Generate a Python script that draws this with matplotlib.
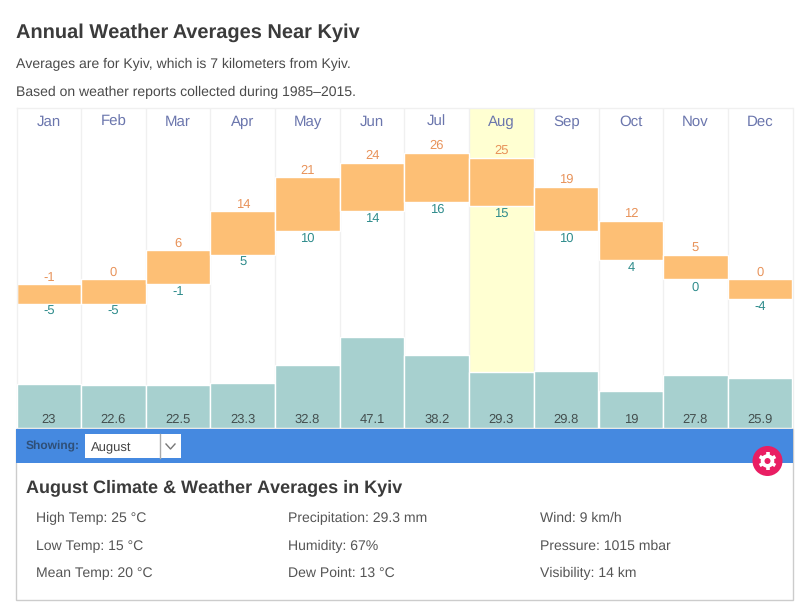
import numpy as np
import matplotlib
matplotlib.use('Agg')
import matplotlib.pyplot as plt
from matplotlib.patches import Rectangle, Circle

plt.rcParams['font.family'] = ['Liberation Sans', 'DejaVu Sans']
plt.rcParams['text.hinting'] = 'none'
plt.rcParams['text.hinting_factor'] = 1

# data
months = ['Jan','Feb','Mar','Apr','May','Jun','Jul','Aug','Sep','Oct','Nov','Dec']
high_temp = [-1,0,6,14,21,24,26,25,19,12,5,0]
low_temp = [-5,-5,-1,5,10,14,16,15,10,4,0,-4]
precip = [23,22.6,22.5,23.3,32.8,47.1,38.2,29.3,29.8,19,27.8,25.9]
precip_labels = ['23','22.6','22.5','23.3','32.8','47.1','38.2','29.3','29.8','19','27.8','25.9']
selected = 'Aug'

title = 'Annual Weather Averages Near Kyiv'
subtitle1 = 'Averages are for Kyiv, which is 7 kilometers from Kyiv.'
subtitle2 = 'Based on weather reports collected during 1985–2015.'
panel_title = 'August Climate & Weather Averages in Kyiv'
col1 = ['High Temp: 25 °C','Low Temp: 15 °C','Mean Temp: 20 °C']
col2 = ['Precipitation: 29.3 mm','Humidity: 67%','Dew Point: 13 °C']
col3 = ['Wind: 9 km/h','Pressure: 1015 mbar','Visibility: 14 km']

W, H = 800, 608
fig = plt.figure(figsize=(W/100, H/100), dpi=100, facecolor='white')

# page layer, in pixels
page = fig.add_axes([0,0,1,1], zorder=3)
page.set_xlim(0,W)
page.set_ylim(H,0)
page.axis('off')
page.patch.set_alpha(0)

# chart area
left, right, top, bottom = 16.5, 792.5, 108, 428
ax = fig.add_axes([left/W, 1-bottom/H, (right-left)/W, (bottom-top)/H], zorder=1)
ax.set_xlim(-0.5,11.5)
ax.set_ylim(-30.5,35.2)
ax.set_xticks([])
ax.set_yticks([])
for s in ax.spines.values():
    s.set_color('#f0f0f0')
    s.set_linewidth(1)
for i in range(11):
    ax.axvline(i+0.5,color='#f0f0f0',lw=1,zorder=1)

x = np.arange(12)
sel = months.index(selected)
ax.axvspan(sel-0.5,sel+0.5,color='#ffffd2',lw=0,zorder=0)

heights = np.array(high_temp)-np.array(low_temp)
ax.bar(x,heights,bottom=low_temp,width=1,color='#fdbf75',edgecolor='white',lw=1,zorder=2)
for i in x:
    ax.annotate(str(high_temp[i]),(i,high_temp[i]),xytext=(0,2.6),textcoords='offset points',
                ha='center',va='baseline',fontsize=9,color='#e8935a',zorder=4)
    ax.annotate(str(low_temp[i]),(i,low_temp[i]),xytext=(0,-8),textcoords='offset points',
                ha='center',va='baseline',fontsize=9,color='#2f8c8c',zorder=4)
    ax.annotate(months[i],(i,1),xycoords=('data','axes fraction'),xytext=(0,-13.2),
                textcoords='offset points',ha='center',va='baseline',fontsize=10.7,color='#6b76ad')

# precipitation on its own scale
ax2 = ax.twinx()
ax2.set_ylim(0,166.5)
ax2.set_yticks([])
ax2.patch.set_alpha(0)
for s in ax2.spines.values():
    s.set_visible(False)
ax2.bar(x,precip,width=1,color='#a7d0cf',edgecolor='white',lw=1,zorder=2)
for i in x:
    ax2.annotate(precip_labels[i],(i,0),xytext=(0,3.4),textcoords='offset points',
                 ha='center',va='baseline',fontsize=9,color='#444f4f')

# heading
page.text(15.5,38.2,title,fontsize=14.2,fontweight='bold',color='#3b3b3b')
page.text(15.5,68.3,subtitle1,fontsize=10,color='#4a4a4a')
page.text(15.5,96.0,subtitle2,fontsize=10,color='#4a4a4a')

# bottom panel
page.add_patch(Rectangle((16,429),776.5,171,fc='white',ec='#cccccc',lw=1,zorder=1))
page.add_patch(Rectangle((16,429),776.5,34,fc='#4589e0',ec='none',zorder=2))
page.text(26,449,'Showing:',fontsize=8.6,fontweight='bold',color='#2f4f77',zorder=3)
page.add_patch(Rectangle((85,434),96,24,fc='white',ec='none',zorder=3))
page.plot([160,160],[434,458],color='#aaaaaa',lw=1,zorder=4)
page.plot([166,170.5,175],[444,449,444],color='#777777',lw=1,zorder=4)
page.text(91,451,'August',fontsize=9,color='#444444',zorder=4)

# gear button
gx, gy = 767.5, 461
page.add_patch(Circle((gx,gy),15,fc='#e91e63',ec='none',zorder=5))
for a in np.deg2rad(np.arange(0,180,60)+90):
    dx, dy = 9*np.cos(a), 9*np.sin(a)
    page.plot([gx-dx,gx+dx],[gy-dy,gy+dy],color='white',lw=2.6,solid_capstyle='butt',zorder=6)
page.add_patch(Circle((gx,gy),6.8,fc='white',ec='none',zorder=6))
page.add_patch(Circle((gx,gy),3,fc='#e91e63',ec='none',zorder=7))

page.text(26,491.7,panel_title,fontsize=12.9,fontweight='bold',color='#3b3b3b',zorder=3)
row_y = [522,550,577]
for xpos, col in zip([36.5,288.5,540],[col1,col2,col3]):
    for y, s in zip(row_y,col):
        page.text(xpos,y,s,fontsize=10,color='#555555',zorder=3)

fig.savefig('out.png',dpi=100)
